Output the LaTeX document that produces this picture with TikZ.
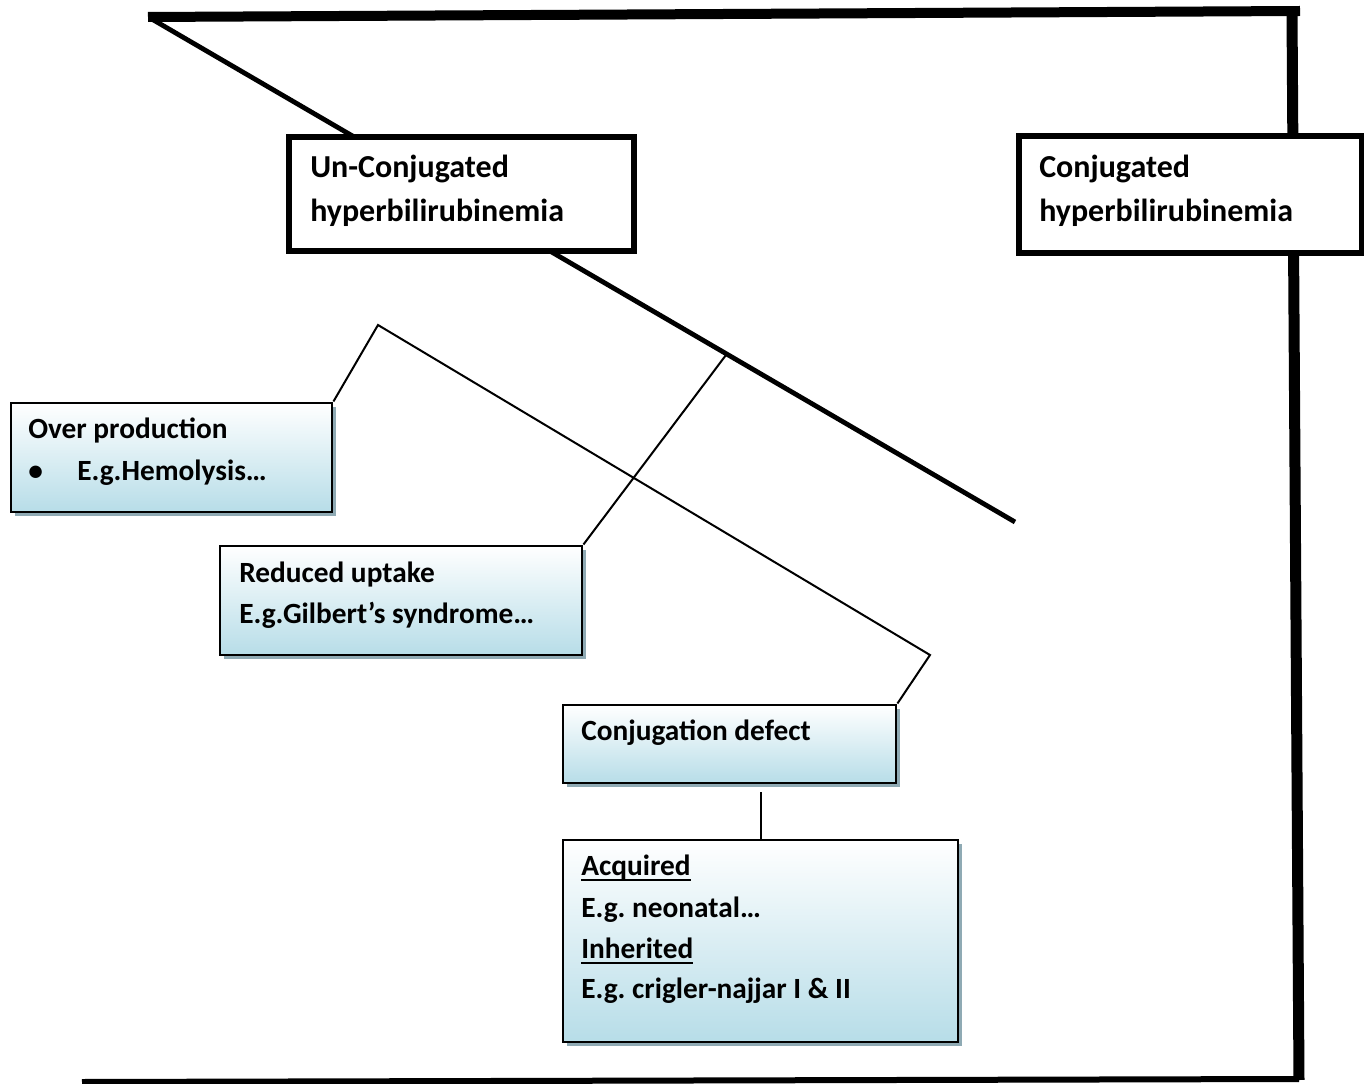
\documentclass[tikz,border=0pt]{standalone}
\usepackage{fontspec}
\setmainfont{Carlito}
\usetikzlibrary{shadows}
\definecolor{boxblue}{RGB}{183,221,232}
\definecolor{shadowblue}{RGB}{143,170,180}
\frenchspacing
% underline drawn at a fixed depth below the baseline
\newcommand{\ulword}[1]{\setbox0\hbox{#1}\rlap{\rule[-4.6pt]{\wd0}{1.4pt}}\box0}
\begin{document}
\begin{tikzpicture}[x=0.75pt,y=-0.75pt,
  mainbox/.style={draw, line width=4.5pt, fill=white, anchor=north west, inner sep=0pt},
  subbox/.style={draw, line width=2.2pt, top color=white, bottom color=boxblue,
    anchor=north west, inner sep=0pt,
    drop shadow={shadow xshift=3pt, shadow yshift=-3pt, fill=shadowblue, opacity=1}},
  bigtxt/.style={anchor=base west, inner sep=0pt, font=\fontsize{24}{28}\selectfont\bfseries},
  smalltxt/.style={anchor=base west, inner sep=0pt, font=\fontsize{22}{26}\selectfont\bfseries},
  link/.style={line width=1.5pt},
  heavy/.style={line width=#1}
]
\useasboundingbox (0,0) rectangle (1364,1084);

% free ends of the heavy frame lines
\coordinate (topL) at (148,17);
\coordinate (topR) at (1300,11);
\coordinate (diagA) at (150,18);
\coordinate (diagB) at (1015,522);
\coordinate (rightA) at (1292,11);
\coordinate (rightB) at (1299,1080);
\coordinate (botL) at (82,1082);
\coordinate (botR) at (1299,1079);

% heavy frame lines (behind the main boxes)
\draw[heavy=7.5pt] (topL) -- (topR);
\draw[heavy=3.6pt] (diagA) -- (diagB);
\draw[heavy=8.25pt] (rightA) -- (rightB);
\draw[heavy=4.5pt] (botL) -- (botR);

% main category boxes
\node[mainbox, minimum width=258.75pt, minimum height=85.5pt] (uc) at (286,134) {};
\node[mainbox, minimum width=257.25pt, minimum height=87.75pt] (cj) at (1016,133) {};
\node[bigtxt] (uc1) at (310,178) {Un-Conjugated};
\node[bigtxt] (uc2) at (310,222) {hyperbilirubinemia};
\node[bigtxt] (cj1) at (1039,178) {Conjugated};
\node[bigtxt] (cj2) at (1039,222) {hyperbilirubinemia};

% cause boxes
\node[subbox, minimum width=240.75pt, minimum height=81.75pt] (op) at (9.5,401.5) {};
\node[subbox, minimum width=271.5pt, minimum height=81.75pt] (ru) at (218.5,544.5) {};
\node[subbox, minimum width=249.75pt, minimum height=58.5pt] (cd) at (561.5,703.5) {};
\node[subbox, minimum width=296.25pt, minimum height=151.5pt] (aq) at (561.5,838.5) {};

\node[smalltxt] (op1) at (28,438) {Over production};
\node[smalltxt] (opb) at (28,480) {•};
\node[smalltxt] (op2) at (77,480) {E.g.Hemolysis…};
\node[smalltxt] (ru1) at (239,582) {Reduced uptake};
\node[smalltxt] (ru2) at (239,623) {E.g.Gilbert’s syndrome…};
\node[smalltxt] (cd1) at (581,740) {Conjugation defect};
\node[smalltxt] (aq1) at (581,875) {\ulword{Acquired}};
\node[smalltxt] (aq2) at (581,917) {E.g. neonatal…};
\node[smalltxt] (aq3) at (581,958) {\ulword{Inherited}};
\node[smalltxt] (aq4) at (581,998) {E.g. crigler-najjar I \& II};

% thin connectors
\coordinate (bendA) at (378,325);
\coordinate (bendB) at (930,655);
\coordinate (onDiag) at (726,355);
\coordinate (cdDrop) at (761,792);
\draw[link, line join=miter] (op.north east) -- (bendA) -- (bendB) -- (cd.north east);
\draw[link] (ru.north east) -- (onDiag);
\draw[link] (cdDrop) -- (cdDrop |- aq.north);
\end{tikzpicture}
\end{document}
